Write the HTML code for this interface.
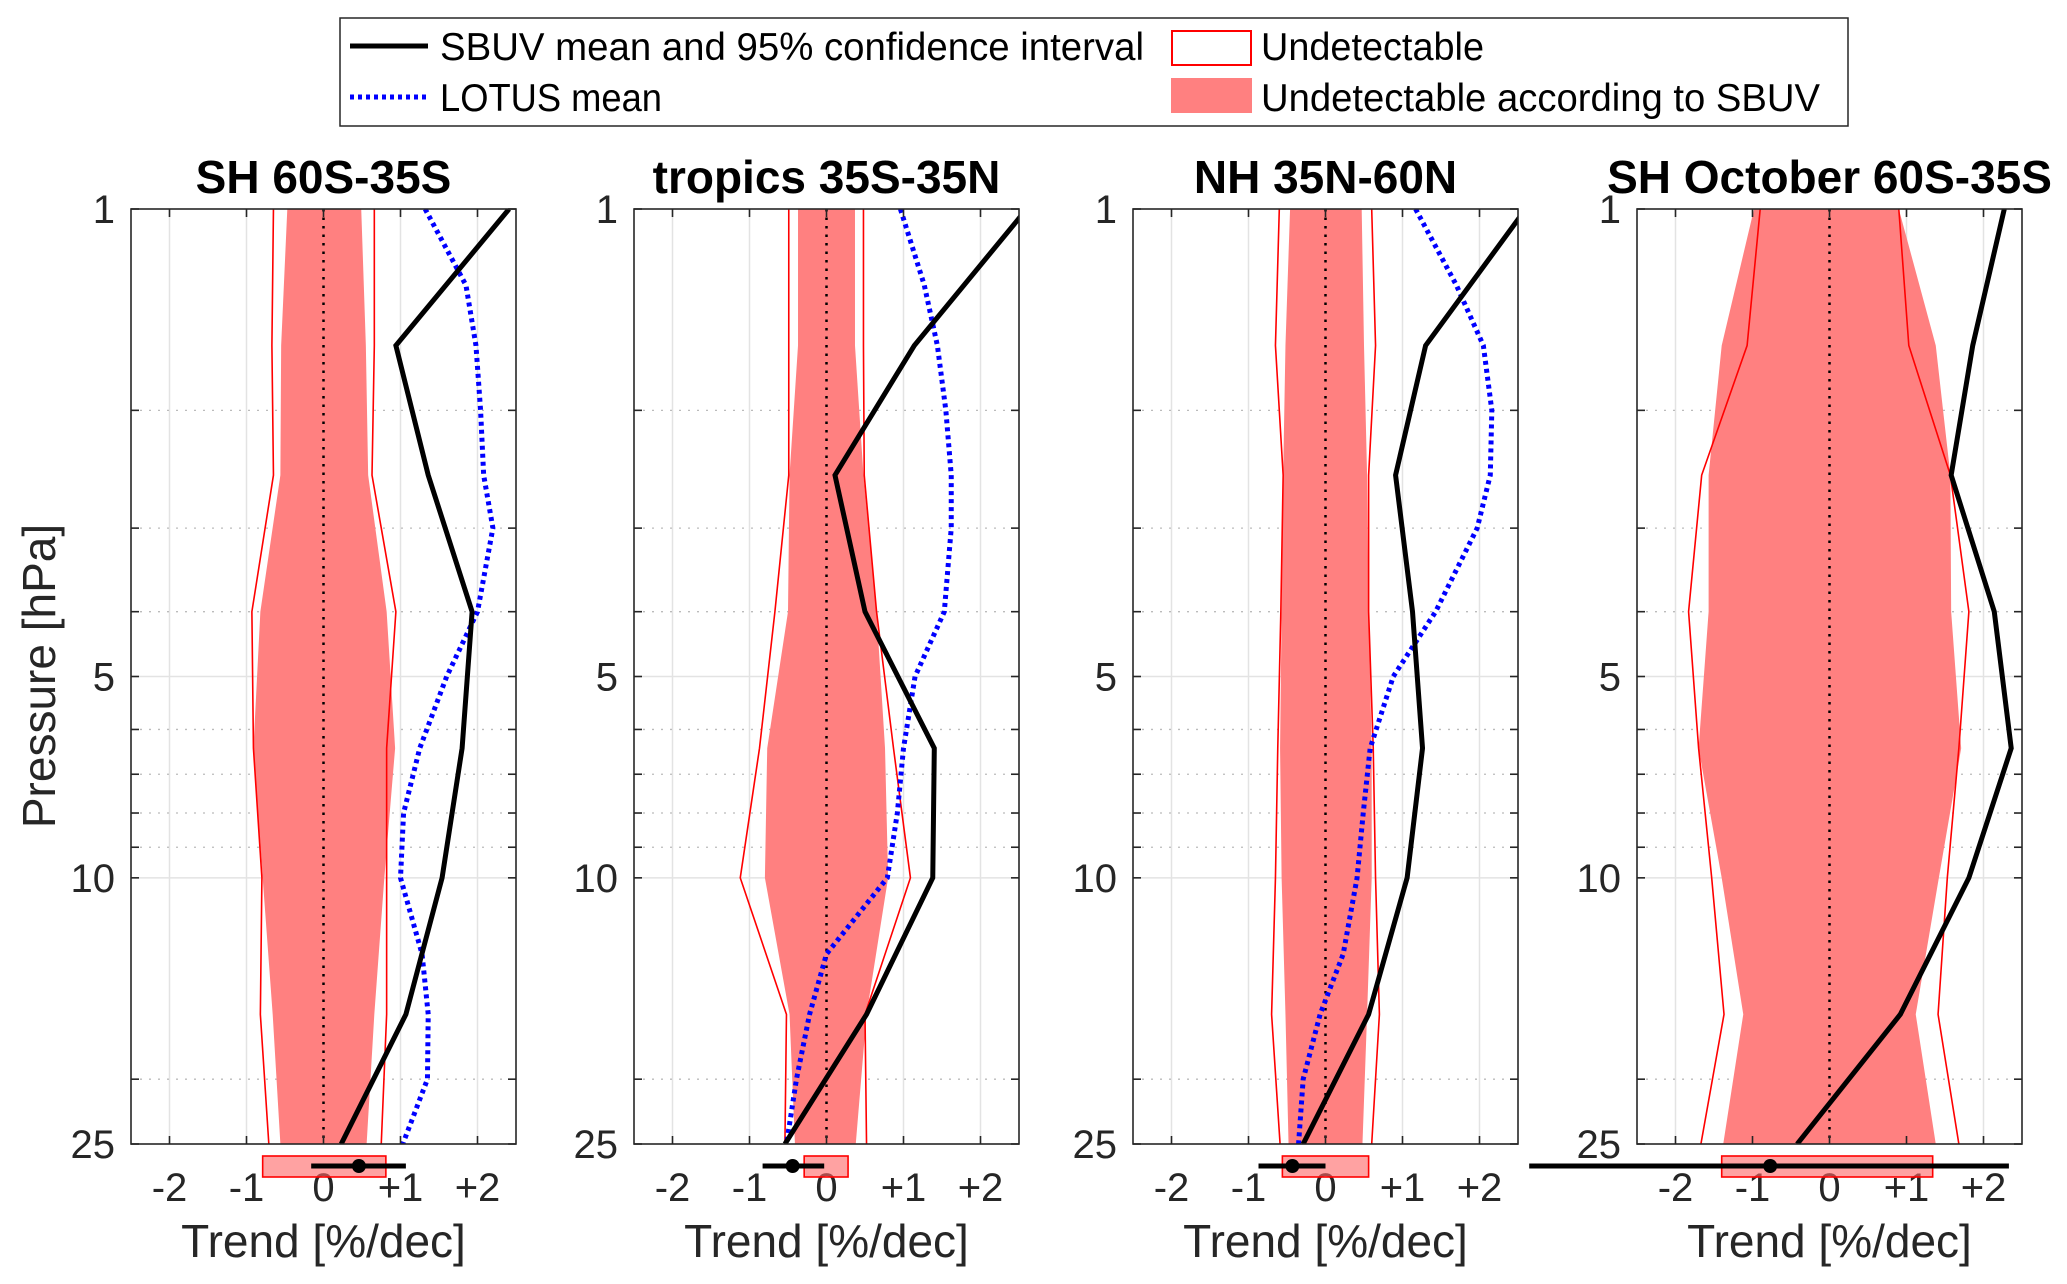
<!DOCTYPE html>
<html><head><meta charset="utf-8"><style>html,body{margin:0;padding:0;background:#fff}svg{display:block}</style></head>
<body>
<svg id="fig" xmlns="http://www.w3.org/2000/svg" width="2067" height="1284" viewBox="0 0 2067 1284" font-family="'Liberation Sans', sans-serif">
<g>
<rect x="340" y="18" width="1508" height="108" fill="#fff" stroke="#262626" stroke-width="1.5"/>
<line x1="350" y1="46" x2="428" y2="46" stroke="#000" stroke-width="5"/>
<text x="440" y="60" font-size="39" textLength="704" lengthAdjust="spacingAndGlyphs">SBUV mean and 95% confidence interval</text>
<line x1="350" y1="97" x2="428" y2="97" stroke="#0000ff" stroke-width="5" stroke-dasharray="4 4"/>
<text x="440" y="111" font-size="39" textLength="222" lengthAdjust="spacingAndGlyphs">LOTUS mean</text>
<rect x="1172" y="31" width="79" height="34" fill="#fff" stroke="#ff0000" stroke-width="2"/>
<text x="1261" y="60" font-size="39" textLength="223" lengthAdjust="spacingAndGlyphs">Undetectable</text>
<rect x="1171" y="78" width="81" height="35" fill="#ff8080"/>
<text x="1261" y="111" font-size="39" textLength="559" lengthAdjust="spacingAndGlyphs">Undetectable according to SBUV</text>
</g>
<text transform="translate(55,676) rotate(-90)" text-anchor="middle" font-size="46" fill="#262626">Pressure [hPa]</text>
</svg>
<script>
const levels=[1,1.6,2.5,4,6.4,10,16,25];
const blueLevels=[1,1.3,1.6,2,2.5,3,4,5,6.4,8,10,13,16,20,25];
const titles=["SH 60S-35S","tropics 35S-35N","NH 35N-60N","SH October 60S-35S"];
const sbuv=[[2.41,0.94,1.36,1.93,1.8,1.54,1.07,0.23],[2.6,1.14,0.11,0.5,1.4,1.38,0.52,-0.54],[2.6,1.3,0.91,1.13,1.26,1.06,0.56,-0.29],[2.27,1.86,1.58,2.14,2.36,1.81,0.92,-0.42]];
const fillL=[[-0.47,-0.55,-0.56,-0.82,-0.91,-0.79,-0.66,-0.56],[-0.37,-0.37,-0.48,-0.5,-0.77,-0.8,-0.48,-0.41],[-0.46,-0.52,-0.55,-0.57,-0.59,-0.57,-0.52,-0.48],[-0.98,-1.4,-1.57,-1.57,-1.7,-1.4,-1.12,-1.38]];
const fillR=[[0.49,0.55,0.58,0.82,0.93,0.79,0.66,0.56],[0.37,0.37,0.48,0.65,0.76,0.8,0.52,0.38],[0.47,0.5,0.54,0.56,0.6,0.6,0.54,0.48],[0.9,1.38,1.57,1.58,1.71,1.42,1.12,1.38]];
const outL=[[-0.65,-0.67,-0.65,-0.93,-0.91,-0.8,-0.82,-0.71],[-0.49,-0.49,-0.49,-0.67,-0.87,-1.12,-0.52,-0.54],[-0.6,-0.65,-0.55,-0.58,-0.62,-0.65,-0.7,-0.59],[-0.9,-1.07,-1.66,-1.83,-1.7,-1.53,-1.37,-1.67]];
const outR=[[0.66,0.66,0.63,0.94,0.82,0.82,0.82,0.75],[0.48,0.48,0.49,0.65,0.87,1.09,0.5,0.52],[0.6,0.65,0.56,0.56,0.62,0.65,0.7,0.6],[0.9,1.03,1.57,1.81,1.68,1.53,1.41,1.68]];
const lotus=[[1.32,1.85,1.98,2.04,2.08,2.2,2.0,1.6,1.25,1.04,1.0,1.28,1.36,1.35,1.03],[0.96,1.27,1.44,1.55,1.62,1.62,1.53,1.15,1.0,0.92,0.79,0.0,-0.22,-0.39,-0.52],[1.17,1.7,2.05,2.16,2.14,1.97,1.43,0.88,0.58,0.49,0.41,0.23,-0.07,-0.29,-0.35],null];
const errLo=[-0.16,-0.83,-0.87,-3.9];
const errHi=[1.07,-0.03,0,2.33];
const errMid=[0.46,-0.44,-0.43,-0.77];
const boxLo=[-0.79,-0.29,-0.56,-1.4];
const boxHi=[0.81,0.28,0.56,1.34];
const xTicks=[-2,-1,0,1,2];
const xTickLabels=["-2","-1","0","+1","+2"];
const yTicks=[1,5,10,25];
const yMinor=[2,3,4,6,7,8,9,20];

const NS="http://www.w3.org/2000/svg";
const svg=document.getElementById('fig');
const panelX=[131,634,1133,1637], PW=385, Y0=209, Y1=1144;
function mk(tag,attrs,parent){const e=document.createElementNS(NS,tag);for(const k in attrs)e.setAttribute(k,attrs[k]);parent.appendChild(e);return e;}
function sx(p,v){return panelX[p]+(v+2.5)/5*PW;}
function sy(pr){return Y0+Math.log(pr)/Math.log(25)*(Y1-Y0);}
const defs=mk('defs',{},svg);
for(let p=0;p<4;p++){
  const cp=mk('clipPath',{id:'clip'+p},defs);
  mk('rect',{x:panelX[p],y:Y0,width:PW,height:Y1-Y0},cp);
  const g=mk('g',{},svg);
  
  
  const t=mk('text',{x:panelX[p]+PW/2,y:193,'text-anchor':'middle','font-size':'46','font-weight':'bold'},g);
  t.textContent=titles[p];
  
  
  xTicks.forEach(v=>{mk('line',{x1:sx(p,v),x2:sx(p,v),y1:Y0,y2:Y1,stroke:'#e3e3e3','stroke-width':1.5},g);});
  [5,10].forEach(v=>{mk('line',{x1:panelX[p],x2:panelX[p]+PW,y1:sy(v),y2:sy(v),stroke:'#e3e3e3','stroke-width':1.5},g);});
  yMinor.forEach(v=>{mk('line',{x1:panelX[p],x2:panelX[p]+PW,y1:sy(v),y2:sy(v),stroke:'#bbb','stroke-width':1.3,'stroke-dasharray':'2 7'},g);});
  const dg=mk('g',{'clip-path':'url(#clip'+p+')'},g);
  let pts=levels.map((l,i)=>sx(p,fillL[p][i])+','+sy(l)).concat(levels.slice().reverse().map((l,j)=>{const i=levels.length-1-j;return sx(p,fillR[p][i])+','+sy(l);}));
  const poly=mk('polygon',{points:pts.join(' '),fill:'#ff8080'},dg);
  
  
  mk('line',{x1:sx(p,0),x2:sx(p,0),y1:Y0,y2:Y1,stroke:'#000','stroke-width':2.5,'stroke-dasharray':'2.5 6'},dg);
  [outL,outR].forEach(arr=>{
    const pl=mk('polyline',{points:levels.map((l,i)=>sx(p,arr[p][i])+','+sy(l)).join(' '),fill:'none',stroke:'#ff0000','stroke-width':1.6},dg);
    
    
  });
  if(lotus[p]){
    const bl=mk('polyline',{points:blueLevels.map((l,i)=>sx(p,lotus[p][i])+','+sy(l)).join(' '),fill:'none',stroke:'#0000ff','stroke-width':5,'stroke-dasharray':'4 4'},dg);
    
    
  }
  const kl=mk('polyline',{points:levels.map((l,i)=>sx(p,sbuv[p][i])+','+sy(l)).join(' '),fill:'none',stroke:'#000','stroke-width':5,'stroke-linejoin':'miter'},dg);
  
  
  mk('rect',{x:panelX[p],y:Y0,width:PW,height:Y1-Y0,fill:'none',stroke:'#262626','stroke-width':1.6},g);
  xTicks.forEach((v,i)=>{
    mk('line',{x1:sx(p,v),x2:sx(p,v),y1:Y1,y2:Y1-8,stroke:'#262626','stroke-width':1.6},g);
    mk('line',{x1:sx(p,v),x2:sx(p,v),y1:Y0,y2:Y0+8,stroke:'#262626','stroke-width':1.6},g);
    const tl=mk('text',{x:sx(p,v),y:1201,'text-anchor':'middle','font-size':'40',fill:'#262626'},g);
    tl.textContent=xTickLabels[i];
    
    
  });
  yTicks.concat(yMinor).forEach(v=>{
    mk('line',{x1:panelX[p],x2:panelX[p]+8,y1:sy(v),y2:sy(v),stroke:'#262626','stroke-width':1.6},g);
    mk('line',{x1:panelX[p]+PW,x2:panelX[p]+PW-8,y1:sy(v),y2:sy(v),stroke:'#262626','stroke-width':1.6},g);
  });
  yTicks.forEach(v=>{
    const yl=mk('text',{x:panelX[p]-16,y:sy(v)+14,'text-anchor':'end','font-size':'40',fill:'#262626'},g);
    yl.textContent=String(v);
    
    
  });
  const xt=mk('text',{x:panelX[p]+PW/2,y:1257,'text-anchor':'middle','font-size':'46',fill:'#262626'},g);
  xt.textContent='Trend [%/dec]';
  
  
  const bx=mk('rect',{x:sx(p,boxLo[p]),y:1156,width:sx(p,boxHi[p])-sx(p,boxLo[p]),height:21,fill:'rgba(255,100,100,0.6)',stroke:'#ff0000','stroke-width':1.6},g);
  
  
  const el=mk('line',{x1:sx(p,errLo[p]),x2:sx(p,errHi[p]),y1:1166,y2:1166,stroke:'#000','stroke-width':5},g);
  
  
  const dot=mk('circle',{cx:sx(p,errMid[p]),cy:1166,r:7,fill:'#000'},g);
  
  
}
</script>
</body></html>
